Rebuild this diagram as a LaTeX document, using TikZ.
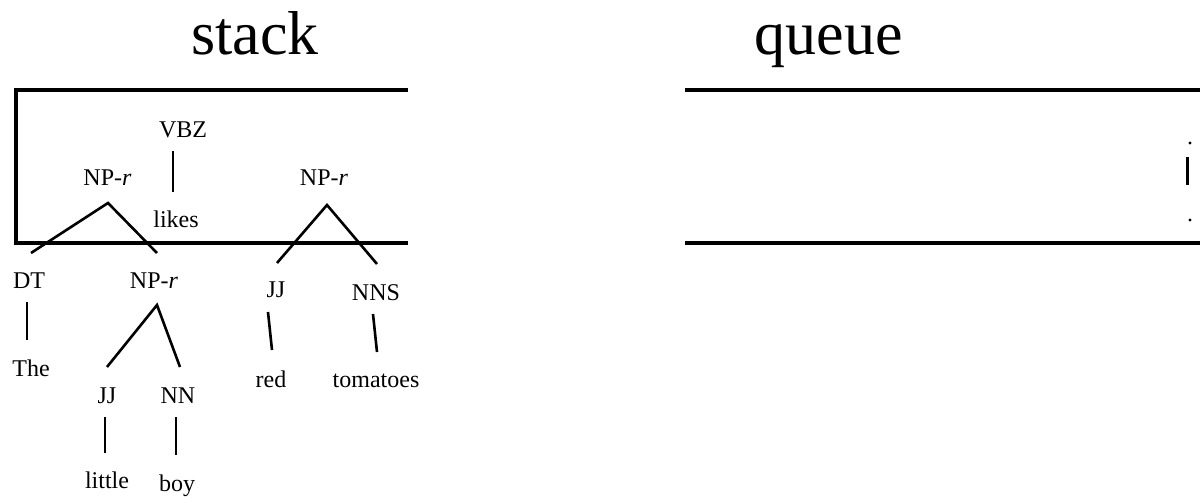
\documentclass[tikz,border=0pt]{standalone}
\usepackage{fontspec}
\setmainfont{Liberation Serif}
\begin{document}
\begin{tikzpicture}[x=1pt,y=-1pt,
  lab/.style={anchor=base,inner sep=0pt,font=\fontsize{24}{28}\selectfont},
  ttl/.style={anchor=base,inner sep=0pt,font=\fontsize{62}{70}\selectfont},
  edge/.style={line width=2.6pt},
  frame/.style={line width=3.2pt}]
\useasboundingbox (0,0) rectangle (1200,497);
% titles
\node[ttl] (stack) at (255,55) {stack};
\node[ttl] (queue) at (829,55) {queue};
% stack frame
\draw[frame] (408,90) -- (16,90) -- (16,243) -- (408,243);
% queue frame
\draw[frame] (685,90) -- (1200,90);
\draw[frame] (685,243) -- (1200,243);
\fill (1190,143) circle (1.6pt);
\fill (1190,220) circle (1.6pt);
\draw[line width=3pt] (1187,157) -- (1187,185);
% labels
\node[lab] (vbz) at (183,138) {VBZ};
\node[lab] (likes) at (176,228) {likes};
\node[lab] (np1) at (107.5,186) {NP-\textit{r}};
\node[lab] (np2) at (324,186) {NP-\textit{r}};
\node[lab] (dt) at (29,288) {DT};
\node[lab] (np3) at (154,288) {NP-\textit{r}};
\node[lab] (the) at (31,376) {The};
\node[lab] (jj1) at (107,403) {JJ};
\node[lab] (nn) at (178,403) {NN};
\node[lab] (little) at (107,488) {little};
\node[lab] (boy) at (177,491) {boy};
\node[lab] (jj2) at (276,298) {JJ};
\node[lab] (nns) at (376,300) {NNS};
\node[lab] (red) at (271,387) {red};
\node[lab] (tomatoes) at (376,387) {tomatoes};
% connector end points
\coordinate (vbzB) at (173,151); \coordinate (likesT) at (173,192);
\coordinate (np1B) at (108,203); \coordinate (dtT) at (31,253); \coordinate (np3T) at (157,253);
\coordinate (np2B) at (327,205); \coordinate (jj2T) at (277,263); \coordinate (nnsT) at (377,264);
\coordinate (dtB) at (27,302); \coordinate (theT) at (27,340);
\coordinate (np3B) at (157,305); \coordinate (jj1T) at (107,367); \coordinate (nnT) at (180,367);
\coordinate (jj1B) at (105,417); \coordinate (littleT) at (105,453);
\coordinate (nnB) at (176,417); \coordinate (boyT) at (176,455);
\coordinate (jj2B) at (268,312); \coordinate (redT) at (272,350);
\coordinate (nnsB) at (373,314); \coordinate (tomT) at (377,352);
% connectors
\draw[edge] (vbzB) -- (likesT);
\draw[edge] (dtT) -- (np1B) -- (np3T);
\draw[edge] (jj2T) -- (np2B) -- (nnsT);
\draw[edge] (dtB) -- (theT);
\draw[edge] (jj1T) -- (np3B) -- (nnT);
\draw[edge] (jj1B) -- (littleT);
\draw[edge] (nnB) -- (boyT);
\draw[edge] (jj2B) -- (redT);
\draw[edge] (nnsB) -- (tomT);
\end{tikzpicture}
\end{document}
